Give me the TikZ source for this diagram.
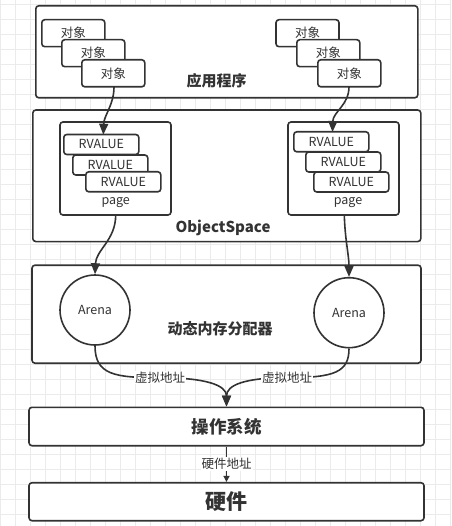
\documentclass[tikz,border=0pt]{standalone}
\usepackage{fontspec}
\setmainfont{Noto Sans CJK SC}
\usetikzlibrary{arrows.meta}
\definecolor{ink}{HTML}{333333}
\definecolor{gridc}{HTML}{EBEBEB}
\tikzset{
  box/.style={draw=ink, line width=1.6pt, rounded corners=3pt, fill=white, inner sep=0pt},
  obj/.style={box, minimum width=63pt, minimum height=27pt, font=\fontsize{12.5}{14}\selectfont, text=ink},
  rv/.style={box, minimum width=75pt, minimum height=20pt, font=\fontsize{12.5}{14}\selectfont, text=ink},
  pagebox/.style={box, minimum width=111pt, minimum height=93pt},
  arena/.style={draw=ink, line width=1.6pt, circle, fill=white, minimum size=70pt, inner sep=0pt, font=\fontsize{12.5}{14}\selectfont, text=ink},
  small/.style={font=\fontsize{12.5}{14}\selectfont, text=ink},
  title/.style={font=\bfseries\fontsize{15}{17}\selectfont, text=ink},
  conn/.style={draw=ink, line width=1.6pt, -{Triangle[length=11pt,width=9pt]}},
  lbl/.style={fill=white, inner sep=1pt, font=\fontsize{12.5}{14}\selectfont, text=ink},
}
\begin{document}
\begin{tikzpicture}[x=1pt,y=-1pt]
\useasboundingbox (0,0) rectangle (451,526);
% grid
\foreach \gx in {0,15,...,450} \draw[gridc, line width=0.8pt] (\gx,0) -- (\gx,526);
\foreach \gy in {4,19,...,526} \draw[gridc, line width=0.8pt] (0,\gy) -- (451,\gy);
% application
\node[box, minimum width=382pt, minimum height=92pt] (app) at (226.8,51.8) {};
\node[title] (apptxt) at (216.7,80.5) {应用程序};
\node[obj] (oL1) at (73.3,33.2) {对象};
\node[obj] (oL2) at (93.3,53.2) {对象};
\node[obj] (oL3) at (113.3,73.3) {对象};
\node[obj] (oR1) at (307.5,33.2) {对象};
\node[obj] (oR2) at (328.3,53.2) {对象};
\node[obj] (oR3) at (349.3,73.3) {对象};
% object space
\node[box, minimum width=388pt, minimum height=131.5pt] (os) at (226.8,175.8) {};
\node[title] (ostxt) at (223,228.3) {ObjectSpace};
\node[pagebox] (pL) at (115.5,168.5) {};
\node[pagebox] (pR) at (343.5,168.5) {};
\node[small] (pLt) at (115.7,203) {page};
\node[small] (pRt) at (348,203) {page};
\node[rv] (rL1) at (101.3,144.5) {RVALUE};
\node[rv] (rL2) at (110.3,165) {RVALUE};
\node[rv] (rL3) at (123.3,181.8) {RVALUE};
\node[rv] (rR1) at (331.3,141.8) {RVALUE};
\node[rv] (rR2) at (343.3,162) {RVALUE};
\node[rv] (rR3) at (351.3,182) {RVALUE};
% allocator
\node[box, minimum width=389pt, minimum height=98pt] (alloc) at (226.5,314.2) {};
\node[title] (alloctxt) at (220,329) {动态内存分配器};
\node[arena] (aL) at (95,310) {Arena};
\node[arena] (aR) at (349,312.7) {Arena};
% OS and hardware
\node[box, minimum width=395pt, minimum height=38.4pt, font=\bfseries\fontsize{17.5}{20}\selectfont, text=ink] (osys) at (226.5,426.5) {操作系统};
\node[box, minimum width=395pt, minimum height=38pt, font=\bfseries\fontsize{21}{24}\selectfont, text=ink] (hw) at (226.5,501.7) {硬件};
% connectors
\coordinate (oLb) at (114,86.8);
\coordinate (oRb) at (349,86.8);
\coordinate (rLt) at (103.3,134.7);
\coordinate (rRt) at (332.5,132);
\draw[conn] (oLb) .. controls (114,105) and (104,115) .. (rLt);
\draw[conn] (oRb) .. controls (349,105) and (333,112) .. (rRt);
\coordinate (pLb) at (115.7,215);
\coordinate (pRb) at (344.3,215);
\draw[conn] (pLb) .. controls (115.7,240) and (96,250) .. (aL.north);
\draw[conn] (pRb) .. controls (345,240) and (349,255) .. (aR.north);
\coordinate (mL) at (160,377.7);
\coordinate (mR) at (287,377.7);
\draw[conn] (aL.south) .. controls (95,375) and (115,377.7) .. (mL) .. controls (205,377.7) and (226.5,385) .. (osys.north);
\draw[conn] (aR.south) .. controls (349,372) and (335,377.7) .. (mR) .. controls (245,377.7) and (226.5,385) .. (osys.north);
\node[lbl] (vL) at (mL) {虚拟地址};
\node[lbl] (vR) at (mR) {虚拟地址};
\draw[draw=ink, line width=1.6pt, -{Triangle[length=6pt,width=6pt]}] (osys.south) -- (hw.north) node[lbl, pos=0.5] (hwaddr) {硬件地址};
\end{tikzpicture}
\end{document}
